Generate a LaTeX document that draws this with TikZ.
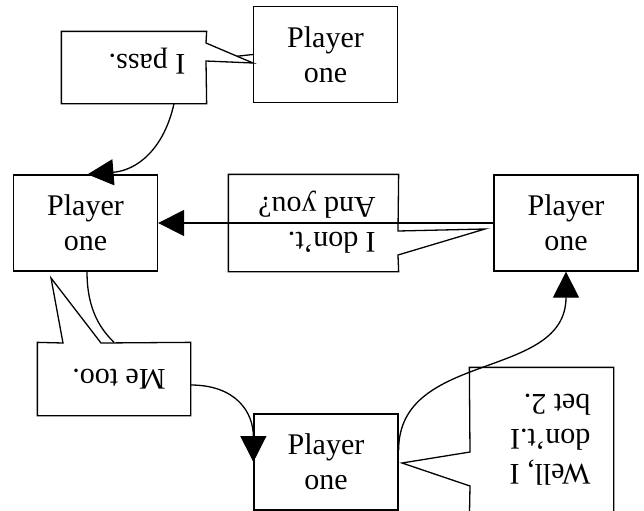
\documentclass[tikz,border=0pt]{standalone}
\usepackage{fontspec}
\setmainfont{Liberation Serif}
\usetikzlibrary{arrows.meta,calc}

\begin{document}
\begin{tikzpicture}[x=0.5pt, y=-0.5pt, line width=0.65pt, >={Triangle[length=13pt,width=13pt]},
    player/.style={draw, fill=white, minimum width=72pt, minimum height=48pt, inner sep=0pt, align=center, font=\fontsize{15}{17.5}\selectfont},
    bubble/.style={inner sep=0pt},
    saying/.style={rotate=180, inner sep=0pt, align=left, font=\fontsize{15}{17.5}\selectfont},
    outline/.style={draw, fill=white, line join=miter}]
    \useasboundingbox[fill=white] (0,0) rectangle (644,510);

    \node[player]  (one)   at (325.5,54.5) {Player\\one};
    \node[player]  (two)   at (85.5,223)   {Player\\one};
    \node[player]  (three) at (566,223)    {Player\\one};
    \node[player]  (four)  at (326,462)    {Player\\one};

    \node[bubble, minimum width=72pt, minimum height=35.5pt]   (pass)  at (134,67.5)  {};
    \node[bubble, minimum width=84.5pt, minimum height=48pt]   (dont)  at (313.5,223) {};
    \node[bubble, minimum width=76pt, minimum height=36pt]     (metoo) at (114,379)   {};
    \node[bubble, minimum width=71.5pt, minimum height=76pt]   (well)  at (541.5,444) {};

    \draw (one.west) -- (pass);

    % speech bubbles
    \path[outline] (pass.north west) -- (pass.north east) -- (206,43) -- (253,63) -- (206,61) -- (pass.south east) -- (pass.south west) -- cycle;
    \path[outline] (dont.north west) -- (dont.north east) -- (398,231) -- (485,229) -- (398,255) -- (dont.south east) -- (dont.south west) -- cycle;
    \path[outline] (metoo.north west) -- (63,343) -- (51,278) -- (101,343) -- (metoo.north east) -- (metoo.south east) -- (metoo.south west) -- cycle;
    \path[outline] (well.north west) -- (well.north east) -- (well.south east) -- (well.south west) -- (470,486) -- (402,463) -- (470,452) -- cycle;

    \node[saying] (passtext)  at (147,61)  {I pass.};
    \node[saying] (donttext)  at (317,222) {I don't.\\And you?};
    \node[saying] (metootext) at (119,379) {Me too.};
    \node[saying] (welltext)  at (550,440) {Well, I\\don't.I\\bet 2.};

    \draw[->] ([xshift=20pt]pass.south) .. controls +(-10,45) and +(50,-4) .. ([xshift=1pt]two.north);
    \draw[->] (three.west) -- (two.east);
    \draw     ([xshift=0.75pt]two.south) .. controls +(0,40) and +(-12,-12) .. (metoo.north);
    \draw[->] ([yshift=-3pt]metoo.east) .. controls +(45,0) and +(0,-50) .. (four.west);
    \draw[->] ([yshift=6pt]four.east) .. controls +(0,-100) and +(0,109) .. (three.south);
\end{tikzpicture}
\end{document}
